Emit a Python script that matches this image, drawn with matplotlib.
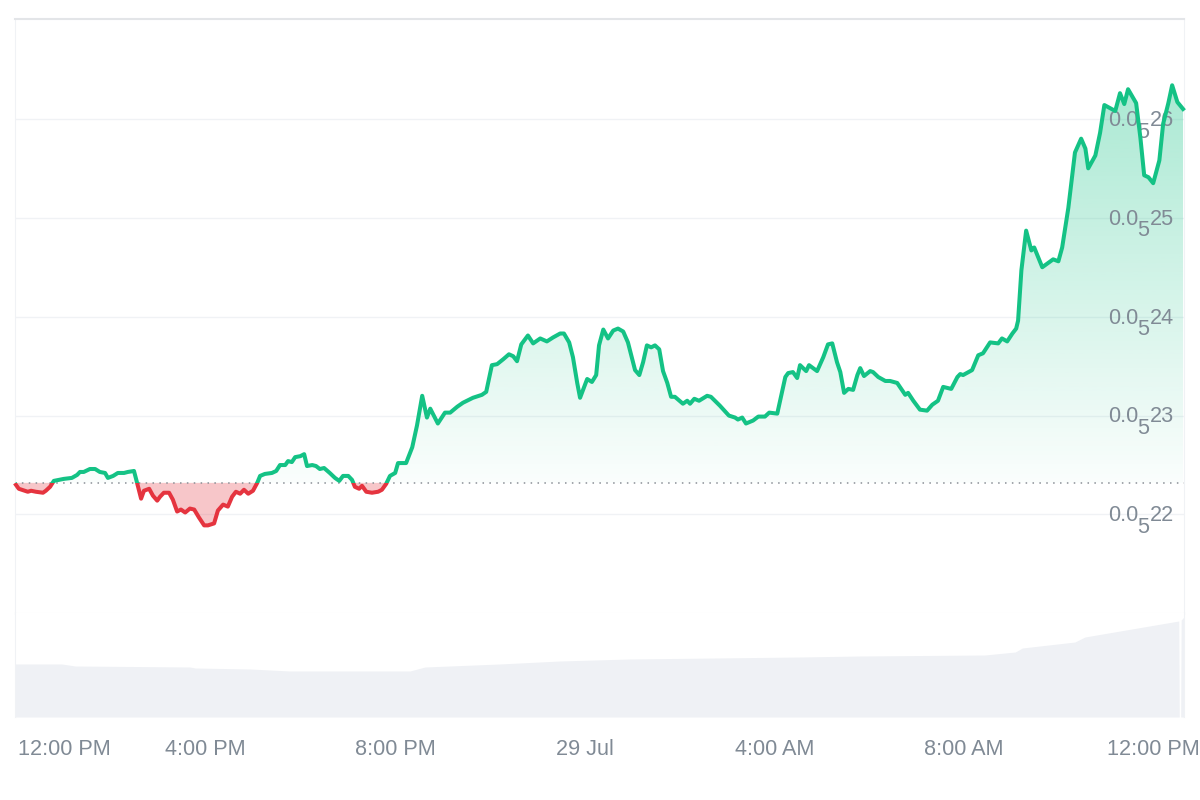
import matplotlib
matplotlib.use("Agg")
import matplotlib.pyplot as plt
import numpy as np
from matplotlib.path import Path
from matplotlib.transforms import ScaledTranslation

plt.rcParams["font.family"] = ["Liberation Sans", "DejaVu Sans"]

# hours since 12:00 PM on 28 Jul
hours = [
    0.00, 0.06, 0.19, 0.25, 0.32, 0.42, 0.57, 0.63, 0.72, 0.80, 0.91, 1.01, 1.18, 1.29, 1.35, 1.43,
    1.56, 1.67, 1.77, 1.88, 1.94, 2.05, 2.15, 2.28, 2.36, 2.49, 2.55, 2.64, 2.70, 2.81, 2.89, 2.98,
    3.04, 3.12, 3.23, 3.31, 3.40, 3.48, 3.57, 3.67, 3.76, 3.86, 3.97, 4.05, 4.18, 4.26, 4.37, 4.47,
    4.56, 4.64, 4.73, 4.81, 4.90, 5.00, 5.09, 5.15, 5.25, 5.40, 5.49, 5.57, 5.68, 5.74, 5.82, 5.89,
    6.00, 6.08, 6.14, 6.25, 6.33, 6.41, 6.50, 6.62, 6.73, 6.82, 6.90, 7.01, 7.09, 7.15, 7.24, 7.30,
    7.39, 7.51, 7.64, 7.72, 7.81, 7.89, 8.00, 8.06, 8.23, 8.36, 8.46, 8.57, 8.67, 8.74, 8.90, 9.05,
    9.16, 9.31, 9.43, 9.64, 9.83, 9.92, 10.04, 10.15, 10.28, 10.40, 10.49, 10.57, 10.66, 10.80, 10.91,
    11.06, 11.20, 11.33, 11.48, 11.56, 11.67, 11.75, 11.84, 11.90, 12.05, 12.15, 12.24, 12.30, 12.39,
    12.49, 12.60, 12.70, 12.81, 12.91, 13.06, 13.15, 13.23, 13.31, 13.40, 13.48, 13.57, 13.65, 13.74,
    13.82, 13.90, 14.07, 14.16, 14.22, 14.31, 14.41, 14.58, 14.66, 14.85, 15.04, 15.17, 15.23, 15.32,
    15.40, 15.55, 15.66, 15.80, 15.89, 16.06, 16.23, 16.29, 16.39, 16.48, 16.54, 16.67, 16.73, 16.90,
    17.03, 17.13, 17.22, 17.32, 17.39, 17.47, 17.56, 17.66, 17.75, 17.81, 17.89, 18.02, 18.08, 18.19,
    18.34, 18.44, 18.59, 18.76, 18.82, 18.93, 19.07, 19.22, 19.33, 19.45, 19.56, 19.73, 19.86, 19.92,
    19.98, 20.17, 20.30, 20.40, 20.55, 20.72, 20.80, 20.91, 21.02, 21.10, 21.14, 21.21, 21.31, 21.42,
    21.48, 21.65, 21.88, 21.99, 22.07, 22.20, 22.34, 22.47, 22.56, 22.62, 22.77, 22.87, 22.96, 23.19,
    23.29, 23.38, 23.46, 23.63, 23.72, 23.80, 23.89, 23.99, 24.12, 24.20, 24.31, 24.39, 24.50, 24.62,
]

# price, in units of 0.0000001
price = [
    22.30, 22.26, 22.24, 22.23, 22.24, 22.23, 22.22, 22.24, 22.28, 22.34, 22.35, 22.36, 22.37, 22.40, 22.43, 22.43,
    22.46, 22.46, 22.43, 22.42, 22.37, 22.39, 22.42, 22.42, 22.43, 22.44, 22.33, 22.16, 22.24, 22.26, 22.19, 22.14,
    22.18, 22.22, 22.22, 22.15, 22.03, 22.05, 22.02, 22.06, 22.05, 21.97, 21.89, 21.89, 21.91, 22.04, 22.10, 22.08,
    22.18, 22.23, 22.21, 22.25, 22.21, 22.24, 22.32, 22.39, 22.41, 22.42, 22.44, 22.50, 22.50, 22.54, 22.53, 22.58,
    22.59, 22.61, 22.49, 22.50, 22.49, 22.46, 22.47, 22.42, 22.37, 22.34, 22.39, 22.39, 22.35, 22.28, 22.26, 22.29,
    22.23, 22.22, 22.23, 22.25, 22.31, 22.39, 22.42, 22.52, 22.52, 22.68, 22.90, 23.20, 22.98, 23.07, 22.92, 23.03,
    23.03, 23.09, 23.13, 23.18, 23.21, 23.24, 23.51, 23.52, 23.57, 23.62, 23.60, 23.55, 23.72, 23.81, 23.73,
    23.78, 23.75, 23.79, 23.83, 23.83, 23.74, 23.59, 23.33, 23.18, 23.37, 23.34, 23.41, 23.71, 23.87,
    23.78, 23.86, 23.88, 23.85, 23.74, 23.46, 23.41, 23.54, 23.71, 23.69, 23.71, 23.67, 23.45, 23.33,
    23.19, 23.19, 23.12, 23.15, 23.12, 23.17, 23.15, 23.20, 23.19, 23.10, 23.00, 22.98, 22.96, 22.98,
    22.92, 22.95, 22.99, 22.99, 23.03, 23.02, 23.39, 23.43, 23.44, 23.38, 23.51, 23.45, 23.51, 23.45,
    23.59, 23.72, 23.73, 23.54, 23.44, 23.23, 23.27, 23.26, 23.41, 23.48, 23.40, 23.45, 23.44, 23.39,
    23.35, 23.35, 23.33, 23.21, 23.23, 23.15, 23.06, 23.05, 23.11, 23.15, 23.29, 23.27, 23.39, 23.42,
    23.41, 23.46, 23.61, 23.63, 23.74, 23.73, 23.78, 23.75, 23.83, 23.88, 23.96, 24.47, 24.87, 24.67,
    24.70, 24.50, 24.58, 24.56, 24.70, 25.10, 25.66, 25.80, 25.70, 25.50, 25.63, 25.86, 26.14, 26.08,
    26.26, 26.15, 26.30, 26.16, 25.81, 25.43, 25.41, 25.35, 25.58, 25.95, 26.16, 26.34, 26.17, 26.10,
]

volume_hours = [-0.02, 0.97, 1.25, 3.67, 3.78, 4.94, 5.78, 8.31, 8.63, 10.2, 11.47, 12.95, 16.54, 17.81, 20.44,
                21.08, 21.23, 22.34, 22.55, 24.53, 24.54, 24.57, 24.58, 24.64]
volume = [53, 53, 51, 50, 49, 48, 46, 46, 50, 53, 56, 58, 60, 61, 62, 65, 69, 75, 80, 96, 0, 0, 97, 100]

open_price = 22.32
y_ticks = [22, 23, 24, 25, 26]
x_ticks = [0, 4, 8, 12, 16, 20, 24]
x_labels = ["12:00 PM", "4:00 PM", "8:00 PM", "29 Jul", "4:00 AM", "8:00 AM", "12:00 PM"]

GREEN = "#14c285"
RED = "#e5343f"
GREY = "#808a95"
GRID = "#f0f2f5"

hours = np.array(hours)
price = np.array(price)

fig = plt.figure(figsize=(12, 8), dpi=100)
ax = fig.add_axes([15 / 1200, 1 - 613 / 800, 1169 / 1200, 594 / 800])
ax_vol = fig.add_axes([15 / 1200, 1 - 717 / 800, 1169 / 1200, 104 / 800], sharex=ax)

ax.spines["bottom"].set_color(GRID)
ax.spines["top"].set_color("#e3e5e8")
ax.spines["top"].set_linewidth(1.5)
ax.spines["left"].set_color(GRID)
ax.spines["right"].set_color(GRID)
ax.tick_params(axis="both", length=0, labelleft=False, labelbottom=False)
ax.set_yticks(y_ticks)
ax.grid(axis="y", color=GRID, linewidth=1, zorder=0)
ax.set_axisbelow(True)

# green gradient under the line, above the open price
up = ax.fill_between(hours, price, open_price, where=price >= open_price, interpolate=True,
                     facecolor="none", edgecolor="none")
rgba = np.zeros((256, 1, 4))
rgba[..., :3] = matplotlib.colors.to_rgb(GREEN)
rgba[..., 3] = np.linspace(0.36, 0.02, 256).reshape(-1, 1)
grad = ax.imshow(rgba, extent=(hours[0], hours[-1], open_price, price.max()),
                 aspect="auto", origin="upper", zorder=1.5)
grad.set_clip_path(Path.make_compound_path(*up.get_paths()), ax.transData)
ax.set_xlim(-0.02, 24.64)
ax.set_ylim(21.004, 27.01)

ax.fill_between(hours, price, open_price, where=price <= open_price, interpolate=True,
                facecolor=RED, alpha=0.28, edgecolor="none", zorder=1.6)

ax.axhline(open_price, color="#8a8f96", linewidth=1.1, linestyle=(0, (1, 3.5)), zorder=2)

# y labels sit inside the plot, the 5 is the count of zeros
for tick in y_ticks:
    ax.annotate("0.0", (24.64, tick), xytext=(-33, -1), textcoords="offset points",
                ha="right", va="center", fontsize=15.6, color=GREY, zorder=1.8)
    ax.annotate("5", (24.64, tick), xytext=(-25, -9.5), textcoords="offset points",
                ha="right", va="center", fontsize=15.6, color=GREY, zorder=1.8)
    ax.annotate(str(tick), (24.64, tick), xytext=(-7, -1), textcoords="offset points",
                ha="right", va="center", fontsize=15.6, color=GREY, zorder=1.8)

green_line, = ax.plot(hours, price, color=GREEN, linewidth=2.9, zorder=3, solid_joinstyle="round")
red_line, = ax.plot(hours, price, color=RED, linewidth=2.9, zorder=3, solid_joinstyle="round")
green_line.set_clip_path(plt.Rectangle((-1, open_price), 27, 10, transform=ax.transData))
red_line.set_clip_path(plt.Rectangle((-1, 15), 27, open_price - 15, transform=ax.transData))

ax_vol.fill_between(volume_hours, volume, 0, color="#eff1f5", linewidth=0)
ax_vol.set_ylim(0, 104)
for s in ["top", "bottom"]:
    ax_vol.spines[s].set_visible(False)
ax_vol.spines["left"].set_color(GRID)
ax_vol.spines["right"].set_color(GRID)
ax_vol.set_yticks([])
ax_vol.set_xticks(x_ticks)
ax_vol.set_xticklabels(x_labels, fontsize=15.6, color=GREY)
ax_vol.tick_params(axis="x", length=0, pad=15.7)
first = ax_vol.get_xticklabels()[0]
first.set_ha("left")
first.set_transform(first.get_transform() + ScaledTranslation(2 / 100, 0, fig.dpi_scale_trans))

fig.savefig("out.png", dpi=100)
